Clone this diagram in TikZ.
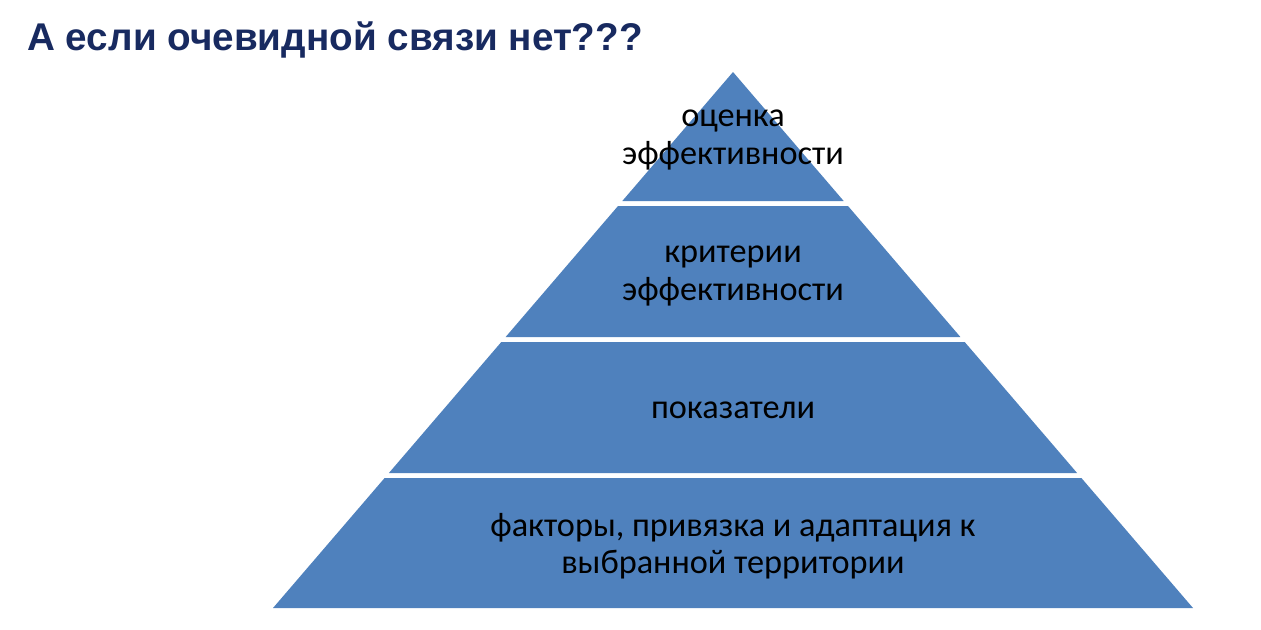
\documentclass[tikz,border=0pt]{standalone}
\usepackage{fontspec}
\setmainfont{Carlito}
\newfontfamily\titlefont{Liberation Sans}
\usetikzlibrary{positioning}
\definecolor{pyrblue}{RGB}{79,129,189}
\definecolor{titlenavy}{RGB}{24,42,96}
\tikzset{
  band/.style={fill=pyrblue},
  bandtext/.style={align=center, text=black, font=\fontsize{19.5}{21.2}\selectfont},
}

\begin{document}
\begin{tikzpicture}[x=0.02cm, y=-0.02cm]
		%%%%% START %%%%%
		\useasboundingbox (0, 0) rectangle (1261, 629);
		
		\node[anchor=base west, text=titlenavy, font=\titlefont\bfseries\fontsize{22}{26}\selectfont, inner sep=0pt] (title) at (27, 50) {А если очевидной связи нет???};
		
		% pyramid bands
		\fill[band] (733, 72) -- (843.7, 201) -- (622.3, 201) -- cycle;
		\fill[band] (618.0, 206) -- (848.0, 206) -- (960.4, 337) -- (505.6, 337) -- cycle;
		\fill[band] (501.3, 342) -- (964.7, 342) -- (1077.1, 473) -- (388.9, 473) -- cycle;
		\fill[band] (384.6, 478) -- (1081.4, 478) -- (1193, 608) -- (273, 608) -- cycle;
		
		\node[bandtext] (assess) at (733, 140) {оценка\\эффективности};
		\node[bandtext] (criteria) at (733, 276) {критерии\\эффективности};
		\node[bandtext] (indicators) at (733, 410) {показатели};
		\node[bandtext] (factors) at (733, 546) {факторы, привязка и адаптация к\\выбранной территории};
		
		%%%%% END %%%%%
	\end{tikzpicture}
\end{document}
